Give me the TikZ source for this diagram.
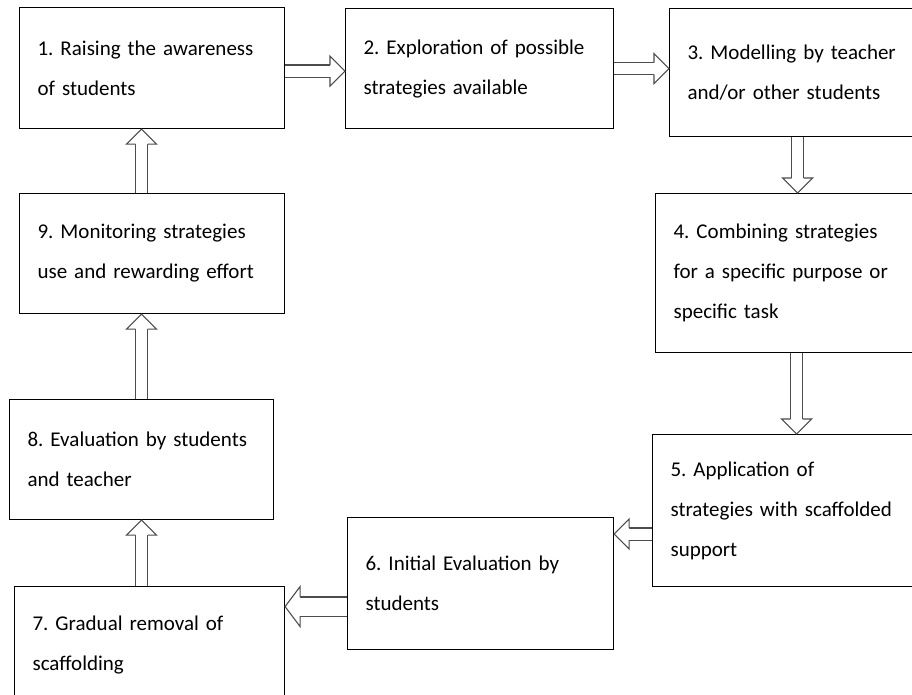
\documentclass[tikz,border=0pt]{standalone}
\usepackage{fontspec}
\setmainfont{Carlito}
\usetikzlibrary{decorations.markings}

\tikzstyle{box} = [rectangle, draw=black, line width=1.1pt, anchor=north west, align=left, inner xsep=18pt, inner ysep=0pt, font=\fontsize{21pt}{40pt}\selectfont]
\tikzstyle{blk} = [draw=black!70, line width=1.1pt, double=white, double distance=11pt, shorten >=14pt,
  postaction={decorate, decoration={markings, mark=at position 1 with {
    \filldraw[draw=black!70, fill=white, line width=1.1pt, shorten >=0pt] (-15pt,6.05pt) -- (-15pt,15pt) -- (0pt,0pt) -- (-15pt,-15pt) -- (-15pt,-6.05pt);}}}]
\tikzstyle{blkwide} = [draw=black!70, line width=1.1pt, double=white, double distance=18pt, shorten >=14pt,
  postaction={decorate, decoration={markings, mark=at position 1 with {
    \filldraw[draw=black!70, fill=white, line width=1.1pt, shorten >=0pt] (-15pt,9.55pt) -- (-15pt,20pt) -- (0pt,0pt) -- (-15pt,-20pt) -- (-15pt,-9.55pt);}}}]

\begin{document}
\frenchspacing
\begin{tikzpicture}[x=1pt,y=-1pt]
\path[use as bounding box, clip] (0,0) rectangle (912,694);

\node[box, minimum width=265pt, minimum height=121pt, text width=229pt] (b1) at (19,7) {1. Raising the awareness\\of students};
\node[box, minimum width=268pt, minimum height=120pt, text width=232pt] (b2) at (345,8) {2. Exploration of possible\\strategies available};
\node[box, minimum width=256pt, minimum height=128pt, text width=220pt] (b3) at (669,8) {3. Modelling by teacher\\and/or other students};
\node[box, minimum width=282pt, minimum height=159pt, text width=246pt] (b4) at (655,193) {4. Combining strategies\\for a specific purpose or\\specific task};
\node[box, minimum width=288pt, minimum height=152pt, text width=252pt] (b5) at (652,434) {5. Application of\\strategies with scaffolded\\support};
\node[box, minimum width=266pt, minimum height=132pt, text width=230pt] (b6) at (347,517) {6. Initial Evaluation by\\students};
\node[box, minimum width=270pt, minimum height=116pt, text width=234pt] (b7) at (14,586) {7. Gradual removal of\\scaffolding};
\node[box, minimum width=264pt, minimum height=120pt, text width=228pt] (b8) at (9,399) {8. Evaluation by students\\and teacher};
\node[box, minimum width=265pt, minimum height=120pt, text width=229pt] (b9) at (19,193) {9. Monitoring strategies\\use and rewarding effort};

% block arrows round the cycle
\draw[blk] ([yshift=-3pt]b1.east) -- ([yshift=-3pt]b1.east -| b2.west);
\draw[blk] (b2.east) -- (b2.east -| b3.west);
\draw[blk] (b3.south) -- (b3.south |- b4.north);
\draw[blk] (b4.south) -- (b4.south |- b5.north);
\draw[blk] ([yshift=-17pt]b6.north east -| b5.west) -- ([yshift=-17pt]b6.north east);
\draw[blkwide] ([yshift=-23pt]b6.west) -- ([yshift=-23pt]b6.west -| b7.east);
\draw[blk] (b8.north |- b7.north) -- (b8.south);
\draw[blk] (b8.north) -- (b8.north |- b9.south);
\draw[blk] (b8.north |- b9.north) -- (b8.north |- b1.south);

\end{tikzpicture}
\end{document}
